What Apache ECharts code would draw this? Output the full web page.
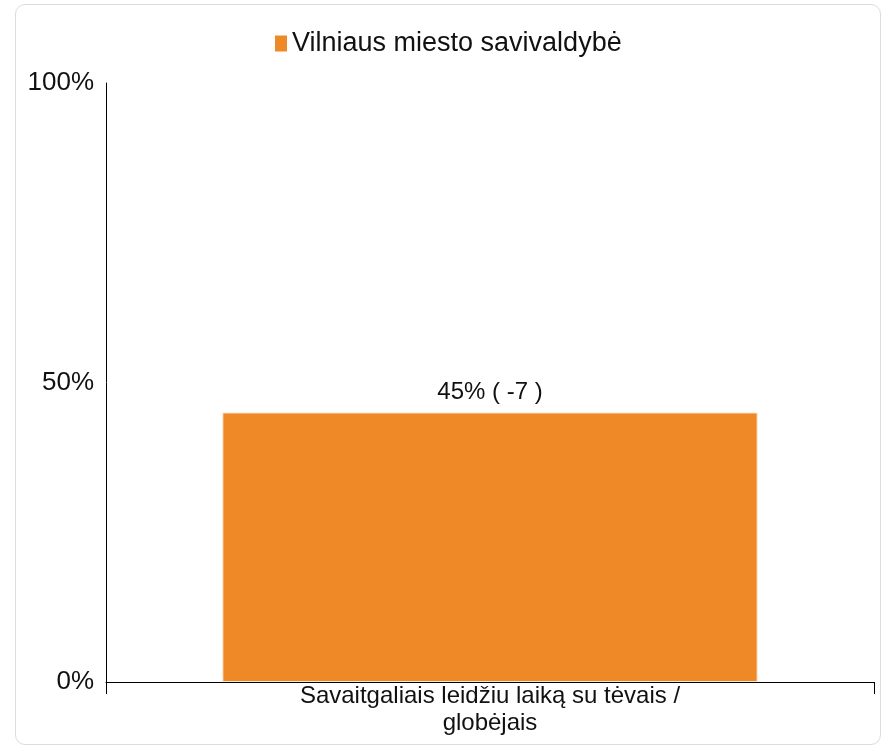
<!DOCTYPE html>
<html>
<head>
<meta charset="utf-8">
<script src="https://cdn.jsdelivr.net/npm/echarts@6/dist/echarts.min.js"></script>
<style>
html,body{margin:0;padding:0;background:#fff;}
#frame{position:absolute;left:15px;top:4px;width:866px;height:741px;border:1.5px solid #dcdcdc;border-radius:10px;box-sizing:border-box;}
#chart{position:absolute;left:0;top:0;width:887px;height:748px;}
</style>
</head>
<body>
<div id="frame"></div>
<div id="chart"></div>
<script>
const categories = ["Savaitgaliais leidžiu laiką su tėvais /\nglobėjais"];
const seriesName = "Vilniaus miesto savivaldybė";
const values = [45];
const changes = [-7];
const yTicks = [0, 50, 100];

const chart = echarts.init(document.getElementById('chart'), null, {renderer: 'canvas'});
chart.setOption({
  animation: false,
  textStyle: {fontFamily: 'Liberation Sans, Arial, sans-serif'},
  legend: {
    top: 25,
    left: 270,
    itemWidth: 12,
    itemHeight: 16,
    itemGap: 6,
    itemStyle: {borderWidth: 0},
    textStyle: {fontSize: 27, color: '#111', fontFamily: 'Liberation Sans, Arial, sans-serif', padding: [0, 0, 0, 0]},
    data: [{name: seriesName, icon: 'rect'}]
  },
  grid: {left: 106, right: 13, top: 83, bottom: 66, containLabel: false},
  xAxis: {
    type: 'category',
    data: categories,
    axisLine: {lineStyle: {color: '#000', width: 1}},
    axisTick: {show: true, length: 12, alignWithLabel: false, lineStyle: {color: '#000'}},
    axisLabel: {fontSize: 24, color: '#111', lineHeight: 27, margin: 1, interval: 0}
  },
  yAxis: {
    type: 'value',
    min: 0, max: 100, interval: 50,
    axisLine: {show: true, lineStyle: {color: '#000', width: 1}},
    axisTick: {show: false},
    splitLine: {show: false},
    axisLabel: {fontSize: 26, color: '#111', margin: 12, padding: [4, 0, 0, 0],
      formatter: v => yTicks.includes(v) ? v + '%' : ''}
  },
  series: [{
    name: seriesName,
    type: 'bar',
    data: values,
    barWidth: '69.7%',
    itemStyle: {color: '#EF8826', borderColor: '#fde9d6', borderWidth: 1},
    label: {
      show: true, position: 'top', distance: 8, fontSize: 24, color: '#111',
      formatter: p => p.value + '% ( ' + changes[p.dataIndex] + ' )'
    }
  }]
});
</script>
</body>
</html>
